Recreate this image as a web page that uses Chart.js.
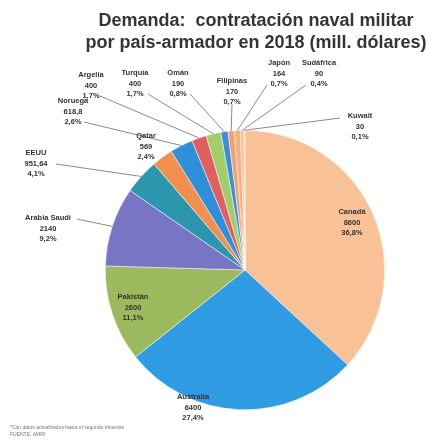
<!DOCTYPE html>
<html>
<head>
<meta charset="utf-8">
<script src="https://cdn.jsdelivr.net/npm/chart.js@4"></script>
<style>
  body { margin: 0; background: #fff; }
  canvas { display: block; }
</style>
</head>
<body>
<canvas id="pie" width="429" height="444"></canvas>
<script>
/////////////
// Data
var countries = ['Canadá', 'Australia', 'Pakistán', 'Arabia Saudí', 'EEUU', 'Qatar', 'Noruega',
    'Argelia', 'Turquía', 'Omán', 'Filipinas', 'Japón', 'Sudáfrica', 'Kuwait'];
var values = [8600, 6400, 2600, 2140, 951.64, 569, 618.8, 400, 400, 190, 170, 164, 90, 30];
var percentLabels = ['36,8%', '27,4%', '11,1%', '9,2%', '4,1%', '2,4%', '2,6%',
    '1,7%', '1,7%', '0,8%', '0,7%', '0,7%', '0,4%', '0,1%'];
var titleLines = ['Demanda:  contratación naval militar', 'por país-armador en 2018 (mill. dólares)'];
var footnoteLines = ['*Con datos actualizados hasta el segundo trimestre', 'FUENTE: AMRI'];

var colors = ['#F9C196', '#2F9BE3', '#9CB95E', '#7876C4', '#2A97AF', '#F08F4E', '#2F90DA',
    '#E0605F', '#A2CE6A', '#3A8CDD', '#F2A272', '#F5B183', '#F7BD92', '#D9C9BB'];

// Where each label block sits (centre x, first line y) and where its leader starts
var labelLayout = [
    { x: 352, y: 212 },                    // Canadá
    { x: 193, y: 397 },                    // Australia
    { x: 133, y: 297 },                    // Pakistán
    { x: 48, y: 218, lx: 77, ly: 219 },    // Arabia Saudí
    { x: 36, y: 153, lx: 56, ly: 164 },    // EEUU
    { x: 146, y: 136 },                    // Qatar
    { x: 73, y: 101, lx: 84, ly: 122 },    // Noruega
    { x: 91, y: 75, lx: 100, ly: 96 },     // Argelia
    { x: 135, y: 73, lx: 148, ly: 94 },    // Turquía
    { x: 178, y: 73, lx: 190, ly: 94 },    // Omán
    { x: 232, y: 81, lx: 232, ly: 104 },   // Filipinas
    { x: 279, y: 63, lx: 267, ly: 85 },    // Japón
    { x: 319, y: 63, lx: 306, ly: 85 },    // Sudáfrica
    { x: 360, y: 116, lx: 340, ly: 118 },  // Kuwait
];

function formatValue(v) {
    return String(v).replace('.', ',');
}

// Draws title, slice labels with leaders, and the footnote
var labelsPlugin = {
    id: 'pieLabels',
    afterDatasetsDraw: function (chart) {
        var ctx = chart.ctx;
        var meta = chart.getDatasetMeta(0);
        ctx.save();

        // Leader lines first
        ctx.strokeStyle = '#8a8a8a';
        ctx.lineWidth = 1;
        meta.data.forEach(function (arc, i) {
            var pos = labelLayout[i];
            if (pos.lx === undefined) return;
            var p = arc.getProps(['x', 'y', 'startAngle', 'endAngle', 'outerRadius'], true);
            var mid = (p.startAngle + p.endAngle) / 2;
            ctx.beginPath();
            ctx.moveTo(pos.lx, pos.ly);
            ctx.lineTo(p.x + Math.cos(mid) * p.outerRadius, p.y + Math.sin(mid) * p.outerRadius);
            ctx.stroke();
        });

        // Label text
        ctx.fillStyle = '#333';
        ctx.font = 'bold 7.5px "Liberation Sans", Arial, sans-serif';
        ctx.textAlign = 'center';
        ctx.textBaseline = 'middle';
        meta.data.forEach(function (arc, i) {
            var pos = labelLayout[i];
            var lines = [countries[i], formatValue(values[i]), percentLabels[i]];
            lines.forEach(function (txt, k) {
                ctx.fillText(txt, pos.x, pos.y + k * 10.5);
            });
        });

        // Title
        ctx.fillStyle = '#353535';
        ctx.font = 'bold 18px "Liberation Sans", Arial, sans-serif';
        titleLines.forEach(function (txt, k) {
            ctx.fillText(txt, 256, 21 + k * 22);
        });

        // Footnote
        ctx.fillStyle = '#777';
        ctx.font = '5px "Liberation Sans", Arial, sans-serif';
        ctx.textAlign = 'left';
        footnoteLines.forEach(function (txt, k) {
            ctx.fillText(txt, 10, 428 + k * 7);
        });

        ctx.restore();
    }
};

new Chart(document.getElementById('pie'), {
    type: 'pie',
    data: {
        labels: countries,
        datasets: [{
            data: values,
            backgroundColor: colors,
            borderColor: '#ffffff',
            borderWidth: 0.5,
        }],
    },
    options: {
        responsive: false,
        animation: false,
        layout: {
            padding: { top: 130, bottom: 34, left: 105, right: 44 },
        },
        plugins: {
            legend: { display: false },
            tooltip: { enabled: false },
            title: { display: false },
        },
    },
    plugins: [labelsPlugin],
});
</script>
</body>
</html>
